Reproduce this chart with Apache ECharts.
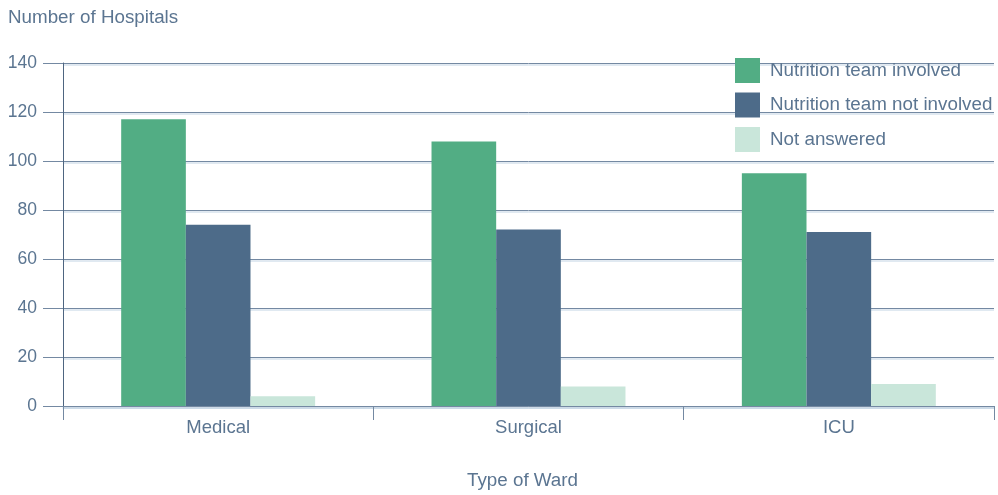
<!DOCTYPE html>
<html>
<head>
<meta charset="utf-8">
<script src="https://cdn.jsdelivr.net/npm/echarts@6/dist/echarts.min.js"></script>
<style>
  html, body { margin: 0; padding: 0; background: #ffffff; }
  #chart { width: 998px; height: 495px; }
</style>
</head>
<body>
<div id="chart"></div>
<script>
// Ward types on the x axis
const wards = ['Medical', 'Surgical', 'ICU'];

// Number of hospitals per ward type
const teamInvolved = [117, 108, 95];
const teamNotInvolved = [74, 72, 71];
const notAnswered = [4, 8, 9];

const seriesNames = ['Nutrition team involved', 'Nutrition team not involved', 'Not answered'];

const yTicks = { min: 0, max: 140, interval: 20 };

const textColor = '#5b7591';
const gridColor = '#7489a2';
const fontFamily = '"Liberation Sans", Arial, sans-serif';

const chart = echarts.init(document.getElementById('chart'), null, { renderer: 'canvas' });

const lineShadow = { shadowColor: 'rgba(170,192,215,0.7)', shadowOffsetY: 1.5, shadowBlur: 0 };

chart.setOption({
  animation: false,
  color: ['#52ad84', '#4d6b89', '#c9e6da'],
  textStyle: { fontFamily: fontFamily },
  grid: { left: 63, right: 4, top: 63, bottom: 87, containLabel: false },
  legend: {
    data: seriesNames,
    orient: 'vertical',
    left: 730,
    top: 53,
    itemWidth: 25,
    itemHeight: 25,
    itemGap: 9.5,
    icon: 'rect',
    textStyle: { color: textColor, fontSize: 18.8, fontFamily: fontFamily, padding: [0, 0, 0, 5] }
  },
  xAxis: {
    type: 'category',
    data: wards,
    name: 'Type of Ward',
    nameLocation: 'middle',
    nameGap: 65,
    nameTextStyle: { color: textColor, fontSize: 18.8, padding: [0, 12, 0, 0] },
    axisLine: { show: true, lineStyle: Object.assign({ color: gridColor, width: 1 }, lineShadow) },
    axisTick: { show: true, length: 14, alignWithLabel: false, lineStyle: { color: gridColor } },
    axisLabel: { color: textColor, fontSize: 18.5, margin: 12 }
  },
  yAxis: {
    type: 'value',
    min: yTicks.min,
    max: yTicks.max,
    interval: yTicks.interval,
    name: 'Number of Hospitals',
    nameLocation: 'end',
    nameGap: 36,
    nameTextStyle: { color: textColor, fontSize: 18.8, align: 'left', padding: [0, 0, 0, -55] },
    axisLine: { show: true, lineStyle: { color: '#4e6580', width: 1 } },
    axisTick: { show: true, length: 20, lineStyle: { color: gridColor } },
    axisLabel: { color: textColor, fontSize: 17.5, margin: 26 },
    splitLine: { show: true, lineStyle: Object.assign({ color: gridColor, width: 1 }, lineShadow) }
  },
  series: [
    { name: seriesNames[0], type: 'bar', data: teamInvolved, barGap: '0%', barCategoryGap: '37.5%' },
    { name: seriesNames[1], type: 'bar', data: teamNotInvolved, barGap: '0%', barCategoryGap: '37.5%' },
    { name: seriesNames[2], type: 'bar', data: notAnswered, barGap: '0%', barCategoryGap: '37.5%' }
  ]
});
</script>
</body>
</html>
